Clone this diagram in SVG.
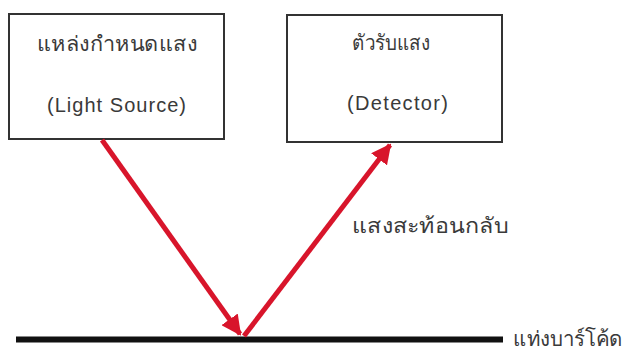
<svg xmlns="http://www.w3.org/2000/svg" width="626" height="349" viewBox="0 0 626 349">
<style>
.box{fill:#fff;stroke:#333;stroke-width:2}
.t{font-family:"Liberation Sans","Noto Sans","DejaVu Sans",sans-serif;font-size:21px;fill:#3a3a3a}
.e{font-size:20px}
.ray{stroke:#d8152b;stroke-width:5;fill:none}
</style>
<defs>
<marker id="ah" viewBox="0 0 10 10" refX="9" refY="5" markerWidth="4" markerHeight="4" orient="auto" markerUnits="strokeWidth">
<path d="M0,0 L10,5 L0,10 z" fill="#d8152b"/>
</marker>
</defs>
<rect width="626" height="349" fill="#fff"/>
<g id="source">
<rect class="box" x="9" y="14" width="215" height="125"/>
<text class="t" x="37" y="51" textLength="160" lengthAdjust="spacingAndGlyphs">แหล่งกำหนดแสง</text>
<text class="t e" x="47" y="112" textLength="139" lengthAdjust="spacing">(Light Source)</text>
</g>
<g id="detector">
<rect class="box" x="287" y="15" width="215" height="127"/>
<text class="t" x="352" y="50" textLength="78" lengthAdjust="spacingAndGlyphs">ตัวรับแสง</text>
<text class="t e" x="347" y="110" textLength="101" lengthAdjust="spacing">(Detector)</text>
</g>
<g id="barcode">
<line x1="16" y1="339.5" x2="503" y2="339.5" stroke="#111" stroke-width="6"/>
<text class="t" x="513" y="346" textLength="110" lengthAdjust="spacingAndGlyphs">แท่งบาร์โค้ด</text>
</g>
<g id="reflected-label">
<text class="t" x="352" y="233" textLength="156" lengthAdjust="spacingAndGlyphs">แสงสะท้อนกลับ</text>
</g>
<g id="connectors">
<line class="ray" x1="102" y1="140" x2="240" y2="334" marker-end="url(#ah)"/>
<line class="ray" x1="244" y1="336" x2="390" y2="145" marker-end="url(#ah)"/>
</g>
</svg>
